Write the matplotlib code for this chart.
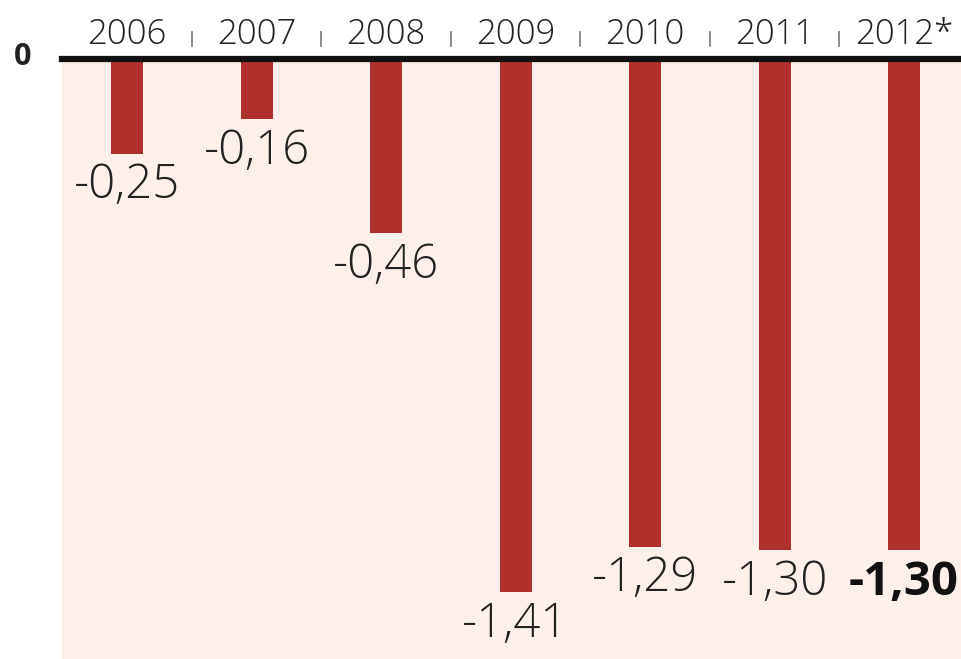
import matplotlib
matplotlib.use("Agg")
import matplotlib.pyplot as plt
import matplotlib.transforms as mtransforms

# Balance values per year
years = ["2006", "2007", "2008", "2009", "2010", "2011", "2012*"]
values = [-0.25, -0.16, -0.46, -1.41, -1.29, -1.30, -1.30]
labels = ["-0,25", "-0,16", "-0,46", "-1,41", "-1,29", "-1,30", "-1,30"]

BAR = "#b0302a"
BG = "#fdf0ea"
TXT = "#222222"
FONT = "Open Sans"

fig = plt.figure(figsize=(9.61, 6.59), dpi=100)
fig.patch.set_facecolor("white")
ax = fig.add_axes([62 / 961, 0.0, 1 - 62 / 961, 1 - 59 / 659])
ax.set_facecolor(BG)

x = list(range(len(years)))
ax.bar(x, values, width=0.247, color=BAR, zorder=2)

ax.set_xlim(-0.502, 6.44)
ax.set_ylim(-600 / 378, 0)

# value labels beneath each bar
for i, (v, lab) in enumerate(zip(values, labels)):
    bold = i == len(values) - 1
    ax.annotate(lab, (i, v), xytext=(0, -6), textcoords="offset points",
                ha="center", va="top", fontsize=34, family=FONT,
                fontweight="bold" if bold else "light", color="#111111" if bold else TXT,
                annotation_clip=False, zorder=3)

# year labels on top
ax.xaxis.tick_top()
ax.set_xticks(x)
ax.set_xticklabels(years, fontsize=25, family=FONT, fontweight="light", color=TXT)
ax.tick_params(axis="x", length=0, pad=5)
ax.set_yticks([])

# small separators between year labels
trans = mtransforms.blended_transform_factory(ax.transData, fig.transFigure)
for i in range(len(years) - 1):
    ax.plot([i + 0.5, i + 0.5], [1 - 32 / 659, 1 - 46 / 659], color="#777777",
            lw=1.2, transform=trans, clip_on=False)

# zero baseline
ax.axhline(0, color="#111111", lw=4.5, zorder=4, clip_on=False)
for s in ax.spines.values():
    s.set_visible(False)

fig.text(23 / 961, 1 - 57 / 659, "0", ha="center", va="center", fontsize=22,
         fontweight="bold", family=FONT, color=TXT)

fig.savefig("out.png", dpi=100, facecolor="white")
